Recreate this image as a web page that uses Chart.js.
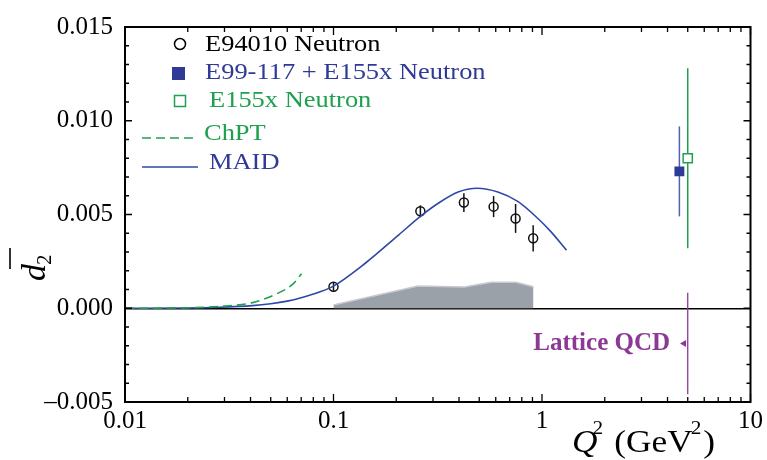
<!DOCTYPE html>
<html>
<head>
<meta charset="utf-8">
<script src="https://cdn.jsdelivr.net/npm/chart.js@4.4.0/dist/chart.umd.min.js"></script>
<style>
    html, body { margin: 0; padding: 0; background: #fff; }
    canvas { display: block; }
</style>
</head>
<body>
<canvas id="d2Chart" width="767" height="460"></canvas>
<script>
// E94010 neutron
const e94010Q2 = [0.1, 0.261, 0.422, 0.586, 0.747, 0.907];
const e94010D2 = [0.00115, 0.00517, 0.00564, 0.00542, 0.00479, 0.00373];
const e94010Err = [0.00022, 0.00032, 0.0005, 0.00056, 0.00077, 0.0007];

// E99-117 + E155x neutron
const e99Q2 = [4.56];
const e99D2 = [0.0073];
const e99Err = [0.0024];

// E155x neutron
const e155Q2 = [5.0];
const e155D2 = [0.0080];
const e155Err = [0.0048];

// lattice QCD
const latticeQ2 = [5.0];
const latticeD2 = [-0.00188];
const latticeErr = [0.00271];
const latticeArrowQ2 = [4.8];

// systematic error band of E94010
const sysQ2 = [0.1, 0.254, 0.425, 0.57, 0.75, 0.91];
const sysD2 = [0.00017, 0.00118, 0.00113, 0.00139, 0.00139, 0.00115];

// MAID curve
const maidQ2 = [0.01, 0.02, 0.0284, 0.0409, 0.05, 0.06, 0.07, 0.085, 0.1, 0.142, 0.205, 0.261, 0.318, 0.396, 0.488, 0.614, 0.765, 0.953, 1.1, 1.31];
const maidD2 = [0, 0.00001, 0.00005, 0.00014, 0.00024, 0.00038, 0.00056, 0.00085, 0.00118, 0.0024, 0.0039, 0.0049, 0.0056, 0.0062, 0.0064, 0.0062, 0.0057, 0.0048, 0.0041, 0.0031];

// ChPT curve
const chptQ2 = [0.01, 0.0164, 0.0284, 0.0409, 0.0529, 0.0636, 0.0703];
const chptD2 = [0, 0.00001, 0.0001, 0.0003, 0.00075, 0.00127, 0.00184];

const xTickLabels = ['0.01', '0.1', '1', '10'];
const yTickLabels = ['\u20130.005', '0.000', '0.005', '0.010', '0.015'];

const BLUE = '#2e3a96';
const MAID_BLUE = '#2d48a6';
const GREEN = '#1fa04e';
const PURPLE = '#8c3995';
const SERIF = "'Liberation Serif', 'DejaVu Serif', serif";

function pts(xs, ys) {
    return xs.map((x, i) => ({x: x, y: ys[i]}));
}

// vertical error bars, read from dataset.errors
const errorBars = {
    id: 'errorBars',
    beforeDatasetsDraw(chart) {
        const ctx = chart.ctx;
        const y = chart.scales.y;
        chart.data.datasets.forEach((ds, i) => {
            if (!ds.errors) return;
            const meta = chart.getDatasetMeta(i);
            ctx.save();
            ctx.strokeStyle = ds.borderColor;
            ctx.lineWidth = ds.errorWidth || 1.5;
            meta.data.forEach((el, j) => {
                const d = ds.data[j];
                ctx.beginPath();
                ctx.moveTo(el.x, y.getPixelForValue(d.y + ds.errors[j]));
                ctx.lineTo(el.x, y.getPixelForValue(d.y - ds.errors[j]));
                ctx.stroke();
            });
            ctx.restore();
        });
    }
};

// box frame with inward ticks on all four sides
const frame = {
    id: 'frame',
    afterDraw(chart) {
        const ctx = chart.ctx;
        const a = chart.chartArea;
        const xs = chart.scales.x, ys = chart.scales.y;
        ctx.save();
        ctx.strokeStyle = '#000';
        ctx.lineWidth = 1.3;
        ctx.beginPath();
        ys.ticks.forEach(t => {
            const p = ys.getPixelForValue(t.value);
            const len = t.label ? 7 : 4;
            ctx.moveTo(a.left, p); ctx.lineTo(a.left + len, p);
            ctx.moveTo(a.right, p); ctx.lineTo(a.right - len, p);
        });
        xs.ticks.forEach(t => {
            const p = xs.getPixelForValue(t.value);
            const len = t.label ? 8 : 5;
            ctx.moveTo(p, a.bottom); ctx.lineTo(p, a.bottom - len);
            ctx.moveTo(p, a.top); ctx.lineTo(p, a.top + len);
        });
        ctx.stroke();
        ctx.lineWidth = 2;
        ctx.strokeRect(a.left, a.top, a.right - a.left, a.bottom - a.top);
        ctx.restore();
    }
};

function stretchedText(ctx, txt, x, y, font, color, sx) {
    ctx.save();
    ctx.translate(x, y);
    ctx.scale(sx, 1);
    ctx.font = font;
    ctx.fillStyle = color;
    ctx.textBaseline = 'alphabetic';
    ctx.fillText(txt, 0, 0);
    const w = ctx.measureText(txt).width * sx;
    ctx.restore();
    return w;
}

// legend, axis titles and the lattice label
const annotations = {
    id: 'annotations',
    afterDraw(chart) {
        const ctx = chart.ctx;
        const f = '23px ' + SERIF;
        ctx.save();

        // legend markers
        ctx.lineWidth = 1.5;
        ctx.strokeStyle = '#000';
        ctx.beginPath(); ctx.arc(180, 44, 5.5, 0, Math.PI * 2); ctx.stroke();
        ctx.fillStyle = BLUE;
        ctx.fillRect(172, 67, 13, 13);
        ctx.strokeStyle = GREEN;
        ctx.strokeRect(174.5, 95.5, 11, 11);
        ctx.setLineDash([9, 5]);
        ctx.beginPath(); ctx.moveTo(142, 138); ctx.lineTo(197, 138); ctx.stroke();
        ctx.setLineDash([]);
        ctx.strokeStyle = MAID_BLUE;
        ctx.beginPath(); ctx.moveTo(142, 167); ctx.lineTo(198, 167); ctx.stroke();

        stretchedText(ctx, 'E94010 Neutron', 205, 51, f, '#000', 1.15);
        stretchedText(ctx, 'E99-117 + E155x Neutron', 205, 79, f, BLUE, 1.15);
        stretchedText(ctx, 'E155x Neutron', 209, 107, f, GREEN, 1.15);
        stretchedText(ctx, 'ChPT', 204, 140, f, GREEN, 1.15);
        stretchedText(ctx, 'MAID', 209, 169, f, BLUE, 1.15);

        // Lattice QCD label next to its arrow
        const arrow = chart.getDatasetMeta(chart.data.datasets.findIndex(d => d.label === 'Lattice arrow')).data[0];
        ctx.font = 'bold 25px ' + SERIF;
        ctx.fillStyle = PURPLE;
        ctx.textAlign = 'right';
        ctx.fillText('Lattice QCD', arrow.x - 14, arrow.y + 6);
        ctx.textAlign = 'left';

        // x title: Q^2 (GeV^2)
        let x = 572;
        x += stretchedText(ctx, 'Q', x, 452, 'italic 31px ' + SERIF, '#000', 1.14);
        x += stretchedText(ctx, '2', x - 5, 434, '19px ' + SERIF, '#000', 1.12);
        x += 6;
        x += stretchedText(ctx, '(GeV', x, 452, '31px ' + SERIF, '#000', 1.14);
        x += stretchedText(ctx, '2', x - 2, 434, '19px ' + SERIF, '#000', 1.12);
        stretchedText(ctx, ')', x, 452, '31px ' + SERIF, '#000', 1.14);

        // y title: d-bar subscript 2
        ctx.translate(45, 281);
        ctx.rotate(-Math.PI / 2);
        ctx.fillStyle = '#000';
        ctx.font = 'italic 34px ' + SERIF;
        ctx.fillText('d', 0, 0);
        const dw = ctx.measureText('d').width;
        ctx.font = '21px ' + SERIF;
        ctx.fillText('2', dw - 1, 6);
        ctx.lineWidth = 1.6;
        ctx.strokeStyle = '#000';
        ctx.beginPath(); ctx.moveTo(12, -35); ctx.lineTo(33, -35); ctx.stroke();
        ctx.restore();
    }
};

const data = {
    datasets: [
        {
            label: 'E94010 systematic',
            type: 'line',
            data: pts(sysQ2, sysD2),
            backgroundColor: '#9ba1a8',
            borderColor: '#c6cacf',
            borderWidth: 1.5,
            pointRadius: 0,
            fill: 'origin',
            tension: 0
        },
        {
            label: 'ChPT',
            type: 'line',
            data: pts(chptQ2, chptD2),
            borderColor: GREEN,
            borderWidth: 1.6,
            borderDash: [9, 5],
            pointRadius: 0,
            fill: false,
            cubicInterpolationMode: 'monotone'
        },
        {
            label: 'MAID',
            type: 'line',
            data: pts(maidQ2, maidD2),
            borderColor: MAID_BLUE,
            borderWidth: 1.6,
            pointRadius: 0,
            fill: false,
            cubicInterpolationMode: 'monotone'
        },
        {
            label: 'E94010 Neutron',
            data: pts(e94010Q2, e94010D2),
            errors: e94010Err,
            borderColor: '#111',
            backgroundColor: 'rgba(0,0,0,0)',
            pointStyle: 'circle',
            pointRadius: 4.5,
            pointBorderWidth: 1.5
        },
        {
            label: 'E99-117 + E155x Neutron',
            data: pts(e99Q2, e99D2),
            errors: e99Err,
            borderColor: '#5360b0',
            backgroundColor: BLUE,
            pointStyle: 'rect',
            pointRadius: 7,
            pointBorderWidth: 0
        },
        {
            label: 'E155x Neutron',
            data: pts(e155Q2, e155D2),
            errors: e155Err,
            borderColor: GREEN,
            backgroundColor: '#fff',
            pointStyle: 'rect',
            pointRadius: 6.5,
            pointBorderWidth: 1.5
        },
        {
            label: 'Lattice QCD',
            data: pts(latticeQ2, latticeD2),
            errors: latticeErr,
            errorWidth: 1.3,
            borderColor: PURPLE,
            pointRadius: 0
        },
        {
            label: 'Lattice arrow',
            data: pts(latticeArrowQ2, latticeD2),
            borderColor: PURPLE,
            backgroundColor: PURPLE,
            pointStyle: 'triangle',
            pointRotation: -90,
            pointRadius: 4,
            pointBorderWidth: 0
        }
    ]
};

new Chart(document.getElementById('d2Chart'), {
    type: 'scatter',
    data: data,
    options: {
        responsive: false,
        animation: false,
        layout: {padding: {top: 19, right: 13, left: 0, bottom: 0}},
        plugins: {legend: {display: false}, tooltip: {enabled: false}},
        scales: {
            x: {
                type: 'logarithmic',
                min: 0.01,
                max: 10,
                afterBuildTicks(scale) {
                    const t = [];
                    for (let e = -2; e <= 0; e++) {
                        for (let m = 1; m <= 9; m++) {
                            t.push({value: parseFloat((m * Math.pow(10, e)).toPrecision(3))});
                        }
                    }
                    t.push({value: 10});
                    scale.ticks = t;
                },
                afterFit(scale) { scale.height = 58; },
                ticks: {
                    autoSkip: false,
                    maxRotation: 0,
                    padding: 4,
                    color: '#000',
                    font: {family: SERIF, size: 25},
                    callback(value) {
                        const e = Math.round(Math.log10(value));
                        if (Math.abs(Math.log10(value) - e) > 1e-6) return '';
                        return xTickLabels[e + 2];
                    }
                },
                grid: {drawOnChartArea: false, drawTicks: false},
                border: {display: false}
            },
            y: {
                min: -0.005,
                max: 0.015,
                afterBuildTicks(scale) {
                    const t = [];
                    for (let i = -5; i <= 15; i++) t.push({value: i / 1000});
                    scale.ticks = t;
                },
                afterFit(scale) { scale.width = 125; },
                ticks: {
                    autoSkip: false,
                    padding: 12,
                    color: '#000',
                    font: {family: SERIF, size: 25},
                    callback(value) {
                        const k = Math.round(value * 1000);
                        if (k % 5 !== 0) return '';
                        return yTickLabels[k / 5 + 1];
                    }
                },
                grid: {
                    drawTicks: false,
                    lineWidth: 1.5,
                    color: c => (c.tick && Math.abs(c.tick.value) < 1e-9) ? '#000' : 'rgba(0,0,0,0)'
                },
                border: {display: false}
            }
        }
    },
    plugins: [errorBars, frame, annotations]
});
</script>
</body>
</html>
